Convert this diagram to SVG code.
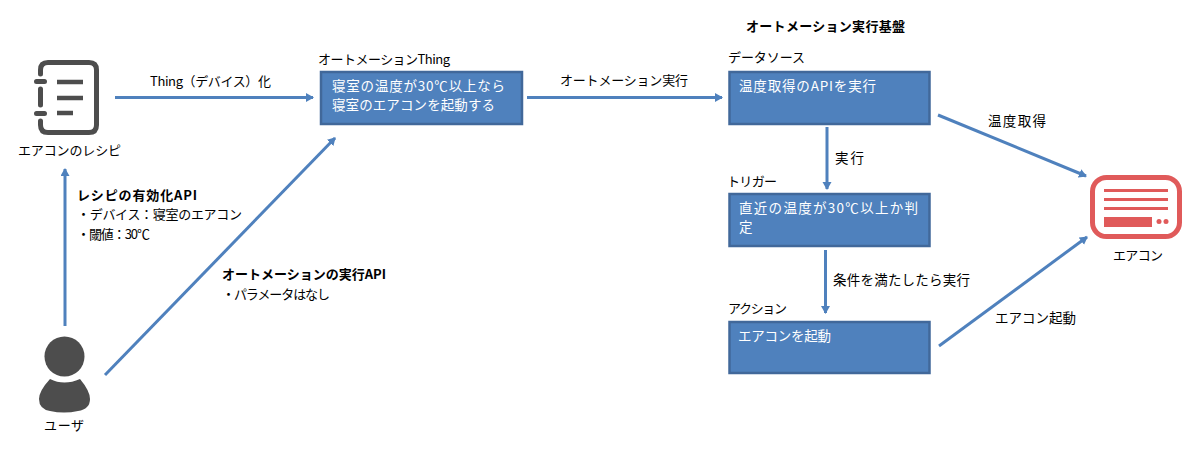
<svg xmlns="http://www.w3.org/2000/svg" width="1197" height="456" viewBox="0 0 1197 456">
<style>
text{font-family:"Noto Sans CJK JP","Noto Sans",sans-serif;font-size:13px;fill:#000}
.l{font-size:13.500px}
.b{font-weight:700}
.w{fill:#fff;font-size:13.500px}
.box{fill:#4f81bd;stroke:#41689a;stroke-width:2.500}
.c{stroke:#4f81bd;stroke-width:3;fill:none;marker-end:url(#a)}
.g{fill:none;stroke:#4d4d4d;stroke-width:5;stroke-linecap:round}
.r{fill:#e05a5a}
</style>
<defs>
<marker id="a" markerUnits="userSpaceOnUse" markerWidth="10" markerHeight="10" refX="7" refY="4.5" orient="auto">
<path d="M0 0L8 4.500L0 9z" fill="#4f81bd"/>
</marker>
</defs>
<rect width="1197" height="456" fill="#fff"/>
<g id="connectors">
<path class="c" d="M115 97.500H313"/>
<path class="c" d="M527 97.500H722"/>
<path class="c" d="M827 127V189"/>
<path class="c" d="M825.500 250V313"/>
<path class="c" d="M938 115L1086 176"/>
<path class="c" d="M939 346L1087 237"/>
<path class="c" d="M65 326V169"/>
<path class="c" d="M105 375L335 138"/>
</g>
<text class="b" x="746" y="31" textLength="159">オートメーション実行基盤</text>
<g id="recipe">
<path class="g" d="M40.500 74V70Q40.500 62.500 48 62.500H89Q96.500 62.500 96.500 70V125Q96.500 132.500 89 132.500H48Q40.500 132.500 40.500 125V121M40.500 89V105"/>
<path class="g" d="M36.500 81.500H44.500M36.500 113.500H44.500"/>
<path d="M57 82H83M57 98H83M57 113H73" fill="none" stroke="#4d4d4d" stroke-width="4.500"/>
<text x="18" y="155" textLength="103">エアコンのレシピ</text>
</g>
<g id="user">
<circle cx="64.500" cy="356.500" r="20" fill="#4d4d4d"/>
<path d="M50 379Q64 386 80 379Q90 391 90 399Q90 409 78 411Q64 414 50 411Q39 409 39 399Q39 391 50 379z" fill="#4d4d4d"/>
<text x="44" y="430" textLength="40">ユーザ</text>
</g>
<g id="thing">
<text x="318" y="64" textLength="132">オートメーションThing</text>
<rect class="box" x="321" y="72" width="201" height="52"/>
<text class="w" x="332" y="91" textLength="173">寝室の温度が30℃以上なら</text>
<text class="w" x="332" y="110" textLength="163">寝室のエアコンを起動する</text>
</g>
<g id="datasource">
<text x="728" y="62" textLength="77">データソース</text>
<rect class="box" x="729.500" y="72" width="200" height="52"/>
<text class="w" x="739" y="91" textLength="137">温度取得のAPIを実行</text>
</g>
<g id="trigger">
<text x="727" y="186" textLength="50">トリガー</text>
<rect class="box" x="729.500" y="194" width="200" height="52"/>
<text class="w" x="739" y="213" textLength="179">直近の温度が30℃以上か判</text>
<text class="w" x="739" y="232">定</text>
</g>
<g id="action">
<text x="728" y="313" textLength="59">アクション</text>
<rect class="box" x="729.500" y="322" width="200" height="51"/>
<text class="w" x="738" y="341" textLength="93">エアコンを起動</text>
</g>
<g id="aircon">
<rect x="1092.500" y="177.500" width="87" height="59" rx="14" fill="none" stroke="#e05a5a" stroke-width="5"/>
<rect class="r" x="1104" y="189" width="64" height="3"/>
<rect class="r" x="1104" y="198" width="64" height="3"/>
<rect class="r" x="1104" y="207" width="64" height="3"/>
<rect class="r" x="1104" y="217" width="48" height="10"/>
<circle class="r" cx="1159" cy="221.500" r="2.500"/>
<circle class="r" cx="1166" cy="221.500" r="2.500"/>
<text x="1113" y="260" textLength="50">エアコン</text>
</g>
<g id="labels">
<text x="150" y="86" textLength="121">Thing（デバイス）化</text>
<text x="560" y="85" textLength="128">オートメーション実行</text>
<text class="l" x="835" y="163" textLength="29">実行</text>
<text class="l" x="833" y="285" textLength="137">条件を満たしたら実行</text>
<text class="l" x="988" y="126" textLength="58">温度取得</text>
<text class="l" x="995" y="323" textLength="81">エアコン起動</text>
<text class="b" x="77" y="200" textLength="120">レシピの有効化API</text>
<text x="77" y="219" textLength="165">・デバイス：寝室のエアコン</text>
<text x="77" y="239" textLength="73">・閾値：30℃</text>
<text class="b" x="222" y="279" textLength="164">オートメーションの実行API</text>
<text x="222" y="299" textLength="108">・パラメータはなし</text>
</g>
</svg>
